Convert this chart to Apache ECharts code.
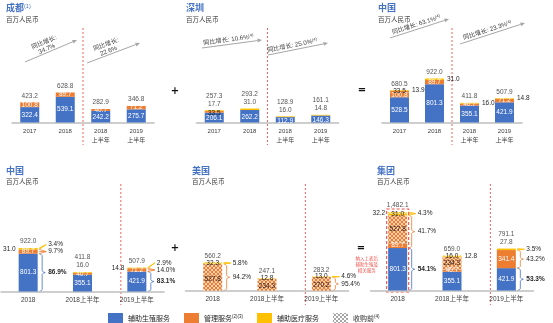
<!DOCTYPE html>
<html>
<head>
<meta charset="utf-8">
<script src="https://cdn.jsdelivr.net/npm/echarts@6/dist/echarts.min.js"></script>
<style>
html, body { margin: 0; padding: 0; background: #fff; }
#c { width: 553px; height: 323px; }
</style>
</head>
<body>
<div id="c"></div>
<script>
// ---- categories ----
const topCategories = ['2017', '2018', '2018\n上半年', '2019\n上半年'];
const bottomCategories = ['2018', '2018上半年', '2019上半年'];

// ---- 成都 (百万人民币) ----
const cdFertility = [322.4, 539.1, 242.2, 275.7];
const cdManagement = [100.8, 89.7, 40.7, 71.2];
const cdTotal = ['423.2', '628.8', '282.9', '346.8'];
const cdGrowth = ['34.7%', '22.6%'];

// ---- 深圳 ----
const szFertility = [206.1, 262.2, 112.9, 146.3];
const szManagement = [33.5, 0, 0, 0];
const szMedical = [17.7, 31.0, 16.0, 14.8];
const szTotal = ['257.3', '293.2', '128.9', '161.1'];
const szGrowth = ['10.6%', '25.0%'];

// ---- 中国 (成都 + 深圳) ----
const cnFertility = [528.5, 801.3, 355.1, 421.9];
const cnManagement = [100.8, 89.7, 40.7, 71.2];
const cnManagementSz = [33.5, 0, 0, 0];
const cnMedical = [13.9, 31.0, 16.0, 14.8];
const cnTotal = ['680.5', '922.0', '411.8', '507.9'];
const cnGrowth = ['63.1%', '23.3%'];

// ---- 中国, 2018 / 2018上半年 / 2019上半年 ----
const cnbFertility = [801.3, 355.1, 421.9];
const cnbManagement = [89.7, 40.7, 71.2];
const cnbMedical = [31.0, 16.0, 14.8];
const cnbTotal = ['922.0', '411.8', '507.9'];
const cnbShareFertility = [86.9, null, 83.1];
const cnbShareManagement = [9.7, null, 14.0];
const cnbShareMedical = [3.4, null, 2.9];

// ---- 美国 (收购前) ----
const usManagementPre = [527.8, 234.3, 270.2];
const usMedicalPre = [32.3, 12.8, 13.0];
const usTotal = ['560.2', '247.1', '283.2'];
const usShareManagement = [94.2, null, 95.4];
const usShareMedical = [5.8, null, 4.6];

// ---- 集团 ----
const grpFertility = [801.3, 355.1, 421.9];
const grpManagement = [89.7, 40.7, 341.4];
const grpManagementPre = [527.8, 234.3, 0];
const grpMedical = [31.0, 16.0, 27.8];
const grpMedicalPre = [32.2, 12.8, 0];
const grpTotal = ['1,482.1', '659.0', '791.1'];
const grpShareFertility = [54.1, null, 53.3];
const grpShareManagement = [41.7, null, 43.2];
const grpShareMedical = [4.3, null, 3.5];

// ---- styling ----
const BLUE = '#4472C4', ORANGE = '#ED7D31', YELLOW = '#FFC000';
const RED = '#F0504A', INK = '#262626', GREY = '#A6A6A6';
const NUM = '"Liberation Sans Narrow", "Liberation Sans", "Noto Sans CJK SC", sans-serif';
const CJK = '"Noto Sans CJK SC", sans-serif';
const N_FERT = '辅助生殖服务', N_MGMT = '管理服务(2)(3)', N_MED = '辅助医疗服务', N_PRE = '收购前(4)';

function hatch(bg, fg) {
  const c = document.createElement('canvas');
  c.width = 4; c.height = 4;
  const x = c.getContext('2d');
  x.fillStyle = bg; x.fillRect(0, 0, 4, 4);
  x.fillStyle = fg;
  for (let i = 0; i < 4; i++) { x.fillRect(i, i, 1, 1); x.fillRect(3 - i, i, 1, 1); }
  return { image: c, repeat: 'repeat' };
}
const ORANGE_PRE = hatch('#F9D2B5', '#ED7D31');
const YELLOW_PRE = hatch('#FFEBB0', '#FFC000');
const GREY_PRE = hatch('#FFFFFF', '#A6A6A6');

const fmt = v => v.toFixed(1);
const fmtExtra = arr => arr.map(v => fmt(v));

// panel layout: grid placement, value scale and per-segment label placement
const panels = [
  { title: '成都', sup: '(1)', tx: 6, ty: 8, cats: topCategories, row: 0,
    grid: { left: 12, width: 142, top: 22.5, height: 100 }, max: 2096,
    segs: [
      { name: N_FERT, data: cdFertility, fill: BLUE, lab: ['w', 'w', 'w', 'w'] },
      { name: N_MGMT, data: cdManagement, fill: ORANGE, lab: ['w', 'w', 'w', 'w'] }
    ],
    totals: cdTotal, extra: null },
  { title: '深圳', sup: '', tx: 186, ty: 8, cats: topCategories, row: 0,
    grid: { left: 196.5, width: 142, top: 22.5, height: 100 }, max: 2096,
    segs: [
      { name: N_FERT, data: szFertility, fill: BLUE, lab: ['w', 'w', 'w', 'w'], dy: 1 },
      { name: N_MGMT, data: szManagement, fill: ORANGE, lab: ['d', '', '', ''], dy: 1 },
      { name: N_MED, data: szMedical, fill: YELLOW, lab: ['', '', '', ''] }
    ],
    totals: szTotal, extra: fmtExtra(szMedical) },
  { title: '中国', sup: '', tx: 378, ty: 8, cats: topCategories, row: 0,
    grid: { left: 382, width: 140, top: 22.5, height: 100 }, max: 2096,
    segs: [
      { name: N_FERT, data: cnFertility, fill: BLUE, lab: ['w', 'w', 'w', 'w'] },
      { name: N_MGMT, data: cnManagement, fill: ORANGE, lab: ['w', 'w', 'w', 'w'] },
      { name: N_MGMT, data: cnManagementSz, fill: ORANGE, lab: ['d', '', '', ''] },
      { name: N_MED, data: cnMedical, fill: YELLOW, lab: ['r', 'r', 'r', 'r'] }
    ],
    totals: cnTotal, extra: null },
  { title: '中国', sup: '', tx: 6, ty: 170.5, cats: bottomCategories, row: 1,
    grid: { left: 1, width: 163, top: 191.5, height: 100 }, max: 2119,
    segs: [
      { name: N_FERT, data: cnbFertility, fill: BLUE, lab: ['w', 'w', 'w'] },
      { name: N_MGMT, data: cnbManagement, fill: ORANGE, lab: ['w', 'w', 'w'] },
      { name: N_MED, data: cnbMedical, fill: YELLOW, lab: ['l', '', 'l'] }
    ],
    totals: cnbTotal, extra: ['', fmt(cnbMedical[1]), ''],
    shares: [
      { vals: cnbShareMedical, from: 2, to: 2, color: YELLOW },
      { vals: cnbShareManagement, from: 1, to: 1, color: ORANGE },
      { vals: cnbShareFertility, from: 0, to: 0, color: BLUE, bold: true }
    ] },
  { title: '美国', sup: '', tx: 192, ty: 170.5, cats: bottomCategories, row: 1,
    grid: { left: 185.5, width: 163, top: 190.7, height: 100 }, max: 1972,
    segs: [
      { name: N_PRE, data: usManagementPre, fill: ORANGE_PRE, lab: ['d', 'd', 'd'], dy: 1.5 },
      { name: N_PRE, data: usMedicalPre, fill: YELLOW_PRE, lab: ['d', 'd', 'd'] }
    ],
    totals: usTotal, extra: null,
    shares: [
      { vals: usShareMedical, from: 1, to: 1, color: YELLOW },
      { vals: usShareManagement, from: 0, to: 0, color: ORANGE }
    ] },
  { title: '集团', sup: '', tx: 377, ty: 170.5, cats: bottomCategories, row: 1,
    grid: { left: 370.5, width: 163, top: 190.5, height: 100 }, max: 1887,
    segs: [
      { name: N_FERT, data: grpFertility, fill: BLUE, lab: ['w', 'w', 'w'] },
      { name: N_MGMT, data: grpManagement, fill: ORANGE, lab: ['w', 'w', 'w'] },
      { name: N_PRE, data: grpManagementPre, fill: ORANGE_PRE, lab: ['d', 'd', ''] },
      { name: N_MED, data: grpMedical, fill: YELLOW, lab: ['d', 'd', ''] },
      { name: N_PRE, data: grpMedicalPre, fill: YELLOW_PRE, lab: ['l', 'r', ''] }
    ],
    totals: grpTotal, extra: ['', '', fmt(grpMedical[2])],
    shares: [
      { vals: grpShareMedical, from: 3, to: 4, color: YELLOW },
      { vals: grpShareManagement, from: 1, to: 2, color: ORANGE },
      { vals: grpShareFertility, from: 0, to: 0, color: BLUE, bold: true }
    ] }
];

function segLabel(mode, v, dy) {
  if (!mode || !v) return { show: false };
  const base = { show: true, formatter: fmt(v), fontSize: 6.5, fontFamily: NUM, color: INK, offset: [0, dy || 0] };
  if (mode === 'w') return Object.assign(base, { position: 'inside', color: '#fff' });
  if (mode === 'd') return Object.assign(base, { position: 'inside' });
  if (mode === 'l') return Object.assign(base, { position: 'left', distance: 3 });
  if (mode === 'r') return Object.assign(base, { position: 'right', distance: 3 });
  return { show: false };
}

const stackSum = (p, i, upto) => p.segs.slice(0, upto).reduce((s, g) => s + (g.data[i] || 0), 0);

const grids = [], xAxes = [], yAxes = [], series = [];
panels.forEach((p, gi) => {
  grids.push(Object.assign({ containLabel: false }, p.grid));
  xAxes.push({
    type: 'category', gridIndex: gi, data: p.cats,
    axisLine: { lineStyle: { color: '#BFBFBF', width: 1.5 } },
    axisTick: { show: false },
    axisLabel: p.row === 0
      ? { fontSize: 6, lineHeight: 9, margin: 4, color: '#404040', fontFamily: NUM, interval: 0 }
      : { fontSize: 6.5, margin: 5.5, color: '#404040', fontFamily: NUM, interval: 0 }
  });
  yAxes.push({ type: 'value', gridIndex: gi, min: 0, max: p.max, show: false, splitLine: { show: false } });
  p.segs.forEach(s => {
    series.push({
      type: 'bar', name: s.name, xAxisIndex: gi, yAxisIndex: gi, stack: 'p' + gi,
      barWidth: 19, silent: true, itemStyle: { color: s.fill },
      data: s.data.map((v, i) => ({ value: v, label: segLabel(s.lab[i], v, s.dy) }))
    });
  });
  series.push({
    type: 'scatter', name: 'total' + gi, xAxisIndex: gi, yAxisIndex: gi,
    symbolSize: 1, itemStyle: { color: 'rgba(0,0,0,0)' }, silent: true,
    data: p.totals.map((t, i) => ({
      value: [i, stackSum(p, i, p.segs.length)],
      label: {
        show: true, position: 'top', distance: 2, fontSize: 6.5, lineHeight: 8,
        fontFamily: NUM, color: INK,
        formatter: p.extra && p.extra[i] ? t + '\n' + p.extra[i] : t
      }
    }))
  });
});

const chart = echarts.init(document.getElementById('c'));
chart.setOption({
  animation: false,
  textStyle: { fontFamily: NUM },
  grid: grids, xAxis: xAxes, yAxis: yAxes, series: series,
  legend: {
    left: 103, top: 308, itemWidth: 15, itemHeight: 10, itemGap: 14, icon: 'rect',
    selectedMode: false,
    textStyle: { fontSize: 7, color: INK, fontFamily: CJK, rich: { s: { fontSize: 4.5, verticalAlign: 'top', fontFamily: NUM, color: INK } } },
    formatter: n => n.replace(/(\(.*\))$/, '{s|$1}'),
    data: [{ name: N_FERT }, { name: N_MGMT }, { name: N_MED }, { name: N_PRE, itemStyle: { color: GREY_PRE } }]
  }
});

// ---- overlays: titles, separators, growth arrows, share braces ----
const gfx = [];
const px = (gi, i, v) => chart.convertToPixel({ gridIndex: gi }, [i, v]);

panels.forEach((p, gi) => {
  gfx.push({
    type: 'text', x: p.tx, y: p.ty, silent: true,
    style: {
      text: p.sup ? '{t|' + p.title + '}{s|' + p.sup + '}' : '{t|' + p.title + '}',
      verticalAlign: 'middle',
      rich: {
        t: { fontSize: 9, fontWeight: 'bold', fill: '#4472C4', fontFamily: CJK },
        s: { fontSize: 5.5, fill: '#4472C4', fontFamily: NUM, verticalAlign: 'top' }
      }
    }
  });
  gfx.push({
    type: 'text', x: p.tx, y: p.ty + 11.5, silent: true,
    style: { text: '百万人民币', fontSize: 6.5, fill: '#404040', fontFamily: CJK, verticalAlign: 'middle' }
  });
  // period separator
  const a = px(gi, 1, 0), b = px(gi, 2, 0);
  const sx = p.row === 0 ? (a[0] + b[0]) / 2 : b[0] - 16;
  const sy1 = p.row === 0 ? 28 : 184, sy2 = p.row === 0 ? 145 : 305;
  gfx.push({ type: 'line', silent: true, shape: { x1: sx, y1: sy1, x2: sx, y2: sy2 },
    style: { stroke: RED, lineWidth: 0.9, lineDash: [2, 2] } });
});

// growth arrows (top row)
const arrows = [
  { x1: 25, y1: 62, x2: 77, y2: 40, off: 7, along: -3, text: '同比增长:\n' + cdGrowth[0], sup: '' },
  { x1: 87, y1: 63, x2: 140, y2: 43, off: 7, along: -4, text: '同比增长:\n' + cdGrowth[1], sup: '' },
  { x1: 202, y1: 48, x2: 262, y2: 40, off: 4.5, along: -3, text: '同比增长: ' + szGrowth[0], sup: '(4)' },
  { x1: 268, y1: 55, x2: 328, y2: 43, off: 4.5, along: -5, text: '同比增长: ' + szGrowth[1], sup: '(4)' },
  { x1: 390, y1: 38, x2: 449, y2: 19, off: 4.5, along: -2, text: '同比增长: ' + cnGrowth[0], sup: '(4)' },
  { x1: 460, y1: 44, x2: 525, y2: 23, off: 4.5, along: -4, text: '同比增长: ' + cnGrowth[1], sup: '(4)' }
];
arrows.forEach(ar => {
  const ang = Math.atan2(ar.y2 - ar.y1, ar.x2 - ar.x1);
  const L = 4.5, W = 2;
  const hx = ar.x2 - L * Math.cos(ang), hy = ar.y2 - L * Math.sin(ang);
  gfx.push({ type: 'line', silent: true, shape: { x1: ar.x1, y1: ar.y1, x2: hx, y2: hy }, style: { stroke: GREY, lineWidth: 1 } });
  gfx.push({ type: 'polygon', silent: true, shape: { points: [[ar.x2, ar.y2],
    [hx - W * Math.sin(ang), hy + W * Math.cos(ang)], [hx + W * Math.sin(ang), hy - W * Math.cos(ang)]] },
    style: { fill: GREY } });
  const mx = (ar.x1 + ar.x2) / 2 + ar.along * Math.cos(ang) + ar.off * Math.sin(ang);
  const my = (ar.y1 + ar.y2) / 2 + ar.along * Math.sin(ang) - ar.off * Math.cos(ang);
  gfx.push({
    type: 'text', silent: true, x: mx, y: my, rotation: -ang,
    style: {
      text: '{a|' + ar.text.replace('\n', '}\n{a|') + '}' + (ar.sup ? '{s|' + ar.sup + '}' : ''),
      align: 'center', verticalAlign: 'middle',
      rich: {
        a: { fontSize: 6.2, fill: '#404040', fontFamily: NUM, lineHeight: 7, align: 'center' },
        s: { fontSize: 4, fill: '#404040', fontFamily: NUM, verticalAlign: 'top' }
      }
    }
  });
});

// + and = between panels
[['+', 175, 91], ['=', 362, 90], ['+', 175, 248], ['=', 361, 248]].forEach(s => {
  gfx.push({ type: 'text', silent: true, x: s[1], y: s[2],
    style: { text: s[0], fontSize: 10, fontWeight: 'bold', fill: '#111', align: 'center', verticalAlign: 'middle', fontFamily: 'DejaVu Sans' } });
});

// share braces to the right of the bars
function bracePoints(x0, y1, y2, ym, w) {
  const xm = x0 + w / 2, xt = x0 + w, r = Math.min(1.8, (y2 - y1) / 4);
  ym = Math.max(y1 + 2 * r, Math.min(y2 - 2 * r, ym));
  return [[x0, y1], [x0 + w * 0.3, y1 + r * 0.3], [xm, y1 + r], [xm, ym - r],
    [x0 + w * 0.7, ym - r * 0.3], [xt, ym], [x0 + w * 0.7, ym + r * 0.3], [xm, ym + r],
    [xm, y2 - r], [x0 + w * 0.3, y2 - r * 0.3], [x0, y2]];
}
panels.forEach((p, gi) => {
  if (!p.shares) return;
  p.cats.forEach((c, i) => {
    const items = [];
    p.shares.forEach(sh => {
      const v = sh.vals[i];
      if (v == null) return;
      const lo = stackSum(p, i, sh.from), hi = stackSum(p, i, sh.to + 1);
      const yb = px(gi, i, lo)[1], yt = px(gi, i, hi)[1];
      items.push({ sh, v, yt, yb, ly: (yt + yb) / 2 });
    });
    if (!items.length) return;
    items.sort((a, b) => b.ly - a.ly);
    for (let k = 1; k < items.length; k++) {
      if (items[k].ly > items[k - 1].ly - 7) items[k].ly = items[k - 1].ly - 7;
    }
    const x0 = px(gi, i, 0)[0] + 9.5 + 1.5, w = 6;
    items.forEach(it => {
      const h = it.yb - it.yt;
      if (h > 6) {
        gfx.push({ type: 'polyline', silent: true, shape: { points: bracePoints(x0, it.yt, it.yb, it.ly, w) },
          style: { fill: 'none', stroke: it.sh.color, lineWidth: 0.8 } });
      } else {
        gfx.push({ type: 'polyline', silent: true,
          shape: { points: [[x0, it.yt], [x0 + w + 1, it.ly], [x0, it.yb]] },
          style: { fill: 'none', stroke: it.sh.color, lineWidth: 0.8 } });
        gfx.push({ type: 'line', silent: true,
          shape: { x1: x0, y1: (it.yt + it.yb) / 2, x2: x0 + w + 1, y2: it.ly },
          style: { stroke: it.sh.color, lineWidth: 0.8 } });
      }
      gfx.push({ type: 'text', silent: true, x: x0 + w + 3, y: it.ly,
        style: { text: fmt(it.v) + '%', fontSize: 6.5, fontWeight: it.sh.bold ? 'bold' : 'normal',
          fill: INK, fontFamily: NUM, verticalAlign: 'middle' } });
    });
  });
});

// dashed frame around the 2018 group bar and its note
(function () {
  const gi = 5, p = panels[gi];
  const base = px(gi, 0, 0), top = px(gi, 0, stackSum(p, 0, p.segs.length));
  gfx.push({ type: 'rect', silent: true,
    shape: { x: base[0] - 11, y: top[1] - 3, width: 22, height: base[1] - top[1] + 4.5 },
    style: { fill: 'none', stroke: RED, lineWidth: 1.1, lineDash: [3, 2] } });
  gfx.push({ type: 'text', silent: true, x: base[0] - 31, y: 264,
    style: { text: '纳入上表后\n辅助生殖及\n相关服务', fontSize: 4.5, lineHeight: 6, fill: RED,
      fontFamily: CJK, align: 'center', verticalAlign: 'middle' } });
})();

chart.setOption({ graphic: { elements: gfx } });
</script>
</body>
</html>
